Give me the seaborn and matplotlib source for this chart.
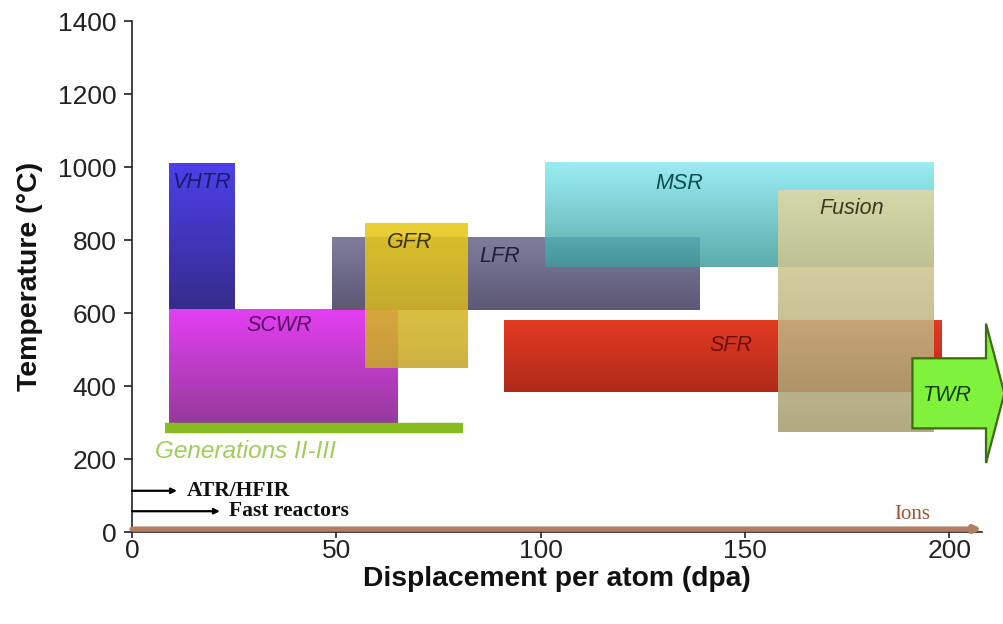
import numpy as np
import pandas as pd
import matplotlib
matplotlib.use("Agg")
import matplotlib.pyplot as plt
from matplotlib.colors import LinearSegmentedColormap
from matplotlib.patches import Polygon
import seaborn as sns

# Operating windows: displacement (dpa) range and temperature (°C) range
reactors = ["VHTR", "SCWR", "LFR", "GFR", "MSR", "SFR", "Fusion"]
dpa_min = [9, 9, 49, 57, 101, 91, 158]
dpa_max = [25, 65, 139, 82, 196, 198, 196]
temp_min = [610, 300, 607, 450, 727, 383, 273]
temp_max = [1010, 610, 807, 845, 1012, 580, 935]

# Light-water reactors (Generations II-III)
gen_dpa = [8, 81]
gen_temp = 285

# Travelling-wave reactor: open-ended dpa range
twr_dpa_start = 191
twr_temp = 380

# Irradiation facilities: maximum dpa reachable and plotting height
facilities = ["ATR/HFIR", "Fast reactors", "Ions"]
facility_dpa = [11, 21.5, 208]
facility_temp = [113, 57, 8]

x_ticks = [0, 50, 100, 150, 200]
y_ticks = [0, 200, 400, 600, 800, 1000, 1200, 1400]

# ---- styling ---------------------------------------------------------------
gradients = {
    "VHTR": ("#4d40ea", "#362c8c", 1.0),
    "SCWR": ("#e43ff2", "#963a9c", 1.0),
    "LFR": ("#7e7e9c", "#5c5876", 1.0),
    "GFR": ("#e8ca1a", "#c8a82a", 0.88),
    "MSR": ("#86eaf0", "#3c9c9c", 0.84),
    "SFR": ("#e43a22", "#b02a1a", 1.0),
    "Fusion": ("#e2d8a0", "#a49c6e", 0.86),
}
label_style = {
    "VHTR": ((17, 957), "#1c1a70"),
    "SCWR": ((36, 566), "#5a0c66"),
    "LFR": ((90, 755), "#1e1e3a"),
    "GFR": ((68, 793), "#3a3000"),
    "MSR": ((134, 954), "#0e4a52"),
    "SFR": ((146.5, 511), "#6a1010"),
    "Fusion": ((176, 886), "#3a3a1a"),
}

sns.set_theme(style="ticks")
plt.rcParams["font.family"] = ["Liberation Sans", "DejaVu Sans"]

fig = plt.figure(figsize=(10.04, 6.24), dpi=100)
ax = fig.add_axes([0.1315, 0.1474, 0.8465, 0.8189])

df = pd.DataFrame({"reactor": reactors, "x0": dpa_min, "x1": dpa_max,
                   "y0": temp_min, "y1": temp_max})

grad = np.linspace(0, 1, 256).reshape(-1, 1)
for z, row in enumerate(df.itertuples()):
    top, bottom, alpha = gradients[row.reactor]
    cmap = LinearSegmentedColormap.from_list(row.reactor, [top, bottom])
    ax.imshow(grad, cmap=cmap, origin="upper", aspect="auto", alpha=alpha,
              extent=(row.x0, row.x1, row.y0, row.y1), zorder=2 + z * 0.1,
              interpolation="bilinear")
    (lx, ly), lc = label_style[row.reactor]
    ax.text(lx, ly, row.reactor, ha="center", va="center", fontsize=15.5,
            style="italic", color=lc, zorder=5)

# Generations II-III band
gen_df = pd.DataFrame({"dpa": gen_dpa, "temp": [gen_temp, gen_temp]})
sns.lineplot(data=gen_df, x="dpa", y="temp", ax=ax, color="#86bc20",
             linewidth=7.5, solid_capstyle="butt", zorder=3)
ax.text(5.6, 221, "Generations II-III", fontsize=17.5, style="italic",
        color="#a2cc5a", ha="left", va="center", zorder=5)

# TWR open-ended arrow
body_h = 96
head_h = 191
head_x = twr_dpa_start + 18
tip_x = twr_dpa_start + 22.5
arrow_pts = [
    (twr_dpa_start, twr_temp - body_h), (head_x, twr_temp - body_h),
    (head_x, twr_temp - head_h), (tip_x, twr_temp),
    (head_x, twr_temp + head_h), (head_x, twr_temp + body_h),
    (twr_dpa_start, twr_temp + body_h),
]
ax.add_patch(Polygon(arrow_pts, closed=True, facecolor="#80f23c",
                     edgecolor="#3e6a12", linewidth=1.6, zorder=6,
                     clip_on=False))
ax.text(twr_dpa_start + 8.3, twr_temp - 5, "TWR", fontsize=15.5,
        style="italic", color="#163c0c", ha="center", va="center", zorder=7)

# Irradiation facility ranges
for name, xd, yt in zip(facilities, facility_dpa, facility_temp):
    if name == "Ions":
        ax.annotate("", xy=(xd, yt), xytext=(0, yt),
                    arrowprops=dict(arrowstyle="-|>", lw=3.8,
                                    color="#b47c60", mutation_scale=9,
                                    shrinkA=0, shrinkB=0),
                    zorder=4, annotation_clip=False)
        ax.text(191, 47, name, fontsize=15, family="Liberation Serif",
                color="#a0502e", ha="center", va="center")
    else:
        ax.annotate("", xy=(xd, yt), xytext=(0, yt),
                    arrowprops=dict(arrowstyle="-|>", lw=1.6, color="black",
                                    mutation_scale=8, shrinkA=0, shrinkB=0),
                    zorder=4, annotation_clip=False)
        ax.text(xd + 2.3, yt, name, fontsize=15.5, family="Liberation Serif",
                weight="bold", color="#111111", ha="left", va="center")

ax.set_xlim(0, 208)
ax.set_ylim(0, 1400)
ax.set_xticks(x_ticks)
ax.set_yticks(y_ticks)
ax.tick_params(axis="y", direction="out", length=6, width=1.2,
               labelsize=19, colors="#222222", pad=5)
ax.tick_params(axis="x", direction="out", length=4, width=1.2,
               labelsize=19, colors="#222222", pad=1)
ax.set_xlabel("Displacement per atom (dpa)", fontsize=20.3, weight="bold",
              color="#111111", labelpad=2)
ax.set_ylabel("Temperature (°C)", fontsize=20.5, weight="bold",
              color="#111111", labelpad=11)
for s in ["left", "bottom"]:
    ax.spines[s].set_color("#222222")
    ax.spines[s].set_linewidth(1.2)
sns.despine(ax=ax)
ax.set_facecolor("white")
fig.patch.set_facecolor("white")

fig.savefig("out.png", dpi=100, facecolor="white")
